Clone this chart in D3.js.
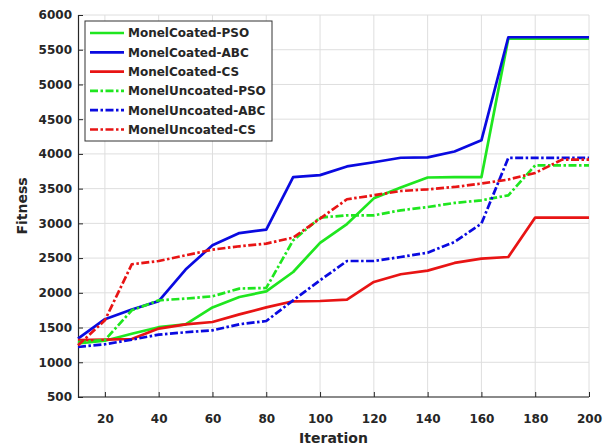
<!doctype html>
<html>
<head>
<meta charset="utf-8" />
<script src="https://cdn.jsdelivr.net/npm/d3@7"></script>
<style>
  html, body { margin: 0; padding: 0; background: #fff; overflow: hidden; }
  svg { display: block; }
  text { font-family: "DejaVu Sans", "Liberation Sans", Arial, sans-serif; font-weight: bold; fill: #262626; }
</style>
</head>
<body>
<script>
// iteration steps
const iterations = [10, 20, 30, 40, 50, 60, 70, 80, 90, 100, 110, 120, 130, 140, 150, 160, 170, 180, 190, 200];

// fitness per series
const coatedPSO   = [1270, 1310, 1410, 1505, 1545, 1790, 1940, 2020, 2300, 2720, 2990, 3360, 3515, 3660, 3665, 3665, 5660, 5660, 5660, 5660];
const coatedABC   = [1340, 1620, 1760, 1880, 2335, 2685, 2860, 2910, 3665, 3695, 3820, 3880, 3945, 3950, 4035, 4195, 5680, 5680, 5680, 5680];
const coatedCS    = [1320, 1325, 1335, 1485, 1545, 1580, 1690, 1790, 1878, 1882, 1902, 2156, 2267, 2320, 2430, 2493, 2516, 3083, 3083, 3083];
const uncoatedPSO = [1290, 1320, 1748, 1892, 1917, 1950, 2061, 2070, 2756, 3083, 3116, 3116, 3188, 3235, 3294, 3332, 3404, 3836, 3836, 3836];
const uncoatedABC = [1220, 1259, 1326, 1398, 1432, 1460, 1547, 1594, 1892, 2180, 2458, 2458, 2516, 2578, 2732, 2997, 3942, 3942, 3942, 3942];
const uncoatedCS  = [1244, 1604, 2411, 2458, 2540, 2622, 2670, 2709, 2795, 3069, 3347, 3404, 3466, 3490, 3524, 3573, 3631, 3726, 3918, 3918];

const seriesNames = ["MonelCoated-PSO", "MonelCoated-ABC", "MonelCoated-CS",
                     "MonelUncoated-PSO", "MonelUncoated-ABC", "MonelUncoated-CS"];
const seriesValues = [coatedPSO, coatedABC, coatedCS, uncoatedPSO, uncoatedABC, uncoatedCS];

const xTicks = [20, 40, 60, 80, 100, 120, 140, 160, 180, 200];
const yTicks = [500, 1000, 1500, 2000, 2500, 3000, 3500, 4000, 4500, 5000, 5500, 6000];

const width = 614, height = 445;
const margin = {top: 15, right: 25, bottom: 48, left: 78};

const colors = ["#1fe61f", "#0a0ae0", "#e81414", "#1fe61f", "#0a0ae0", "#e81414"];
const dashes = [null, null, null, "8,2.5,2.5,2.5", "8,2.5,2.5,2.5", "8,2.5,2.5,2.5"];

const svg = d3.select("body").append("svg")
  .attr("width", width)
  .attr("height", height);

const x = d3.scaleLinear().domain([10, 200]).range([margin.left, width - margin.right]);
const y = d3.scaleLinear().domain([500, 6000]).range([height - margin.bottom, margin.top]);

// grid
svg.append("g")
  .selectAll("line")
  .data(xTicks)
  .join("line")
  .attr("x1", d => x(d)).attr("x2", d => x(d))
  .attr("y1", y(500)).attr("y2", y(6000))
  .attr("stroke", "#dedede").attr("stroke-width", 1);
svg.append("g")
  .selectAll("line")
  .data(yTicks)
  .join("line")
  .attr("x1", x(10)).attr("x2", x(200))
  .attr("y1", d => y(d)).attr("y2", d => y(d))
  .attr("stroke", "#dedede").attr("stroke-width", 1);

// axes
const xAxis = svg.append("g")
  .attr("transform", `translate(0,${y(500)})`)
  .call(d3.axisBottom(x).tickValues(xTicks).tickFormat(d3.format("d")).tickSize(-5).tickPadding(17));
const yAxis = svg.append("g")
  .attr("transform", `translate(${x(10)},0)`)
  .call(d3.axisLeft(y).tickValues(yTicks).tickFormat(d3.format("d")).tickSize(-5).tickPadding(6));
[xAxis, yAxis].forEach(a => {
  a.select(".domain").attr("stroke", "#262626").attr("stroke-width", 1.2);
  a.selectAll(".tick line").attr("stroke", "#262626");
  a.selectAll("text").style("font-size", "12px").attr("fill", "#262626");
});
// x axis drawn from 10 without a label there
xAxis.select(".domain").attr("d", `M${x(10)},0H${x(200)}`);

svg.append("text")
  .attr("x", (x(10) + x(200)) / 2)
  .attr("y", 443)
  .attr("text-anchor", "middle")
  .style("font-size", "14px")
  .text("Iteration");

svg.append("text")
  .attr("transform", `translate(27,${(y(500) + y(6000)) / 2}) rotate(-90)`)
  .attr("text-anchor", "middle")
  .style("font-size", "14px")
  .text("Fitness");

// lines
const line = d3.line()
  .x((d, i) => x(iterations[i]))
  .y(d => y(d));

svg.append("g")
  .selectAll("path")
  .data(seriesValues)
  .join("path")
  .attr("d", d => line(d))
  .attr("fill", "none")
  .attr("stroke", (d, i) => colors[i])
  .attr("stroke-width", 2.7)
  .attr("stroke-dasharray", (d, i) => dashes[i])
  .attr("stroke-linejoin", "round");

// legend
const legend = svg.append("g").attr("transform", "translate(85,21)");
legend.append("rect")
  .attr("width", 187).attr("height", 120)
  .attr("fill", "#fff").attr("stroke", "#333").attr("stroke-width", 1);
const row = legend.selectAll("g.row")
  .data(seriesNames)
  .join("g")
  .attr("class", "row")
  .attr("transform", (d, i) => `translate(0,${12 + i * 19.3})`);
row.append("line")
  .attr("x1", 5).attr("x2", 39)
  .attr("stroke", (d, i) => colors[i])
  .attr("stroke-width", 2.7)
  .attr("stroke-dasharray", (d, i) => dashes[i]);
row.append("text")
  .attr("x", 43)
  .attr("dy", "0.36em")
  .style("font-size", "12px")
  .text(d => d);
</script>
</body>
</html>
